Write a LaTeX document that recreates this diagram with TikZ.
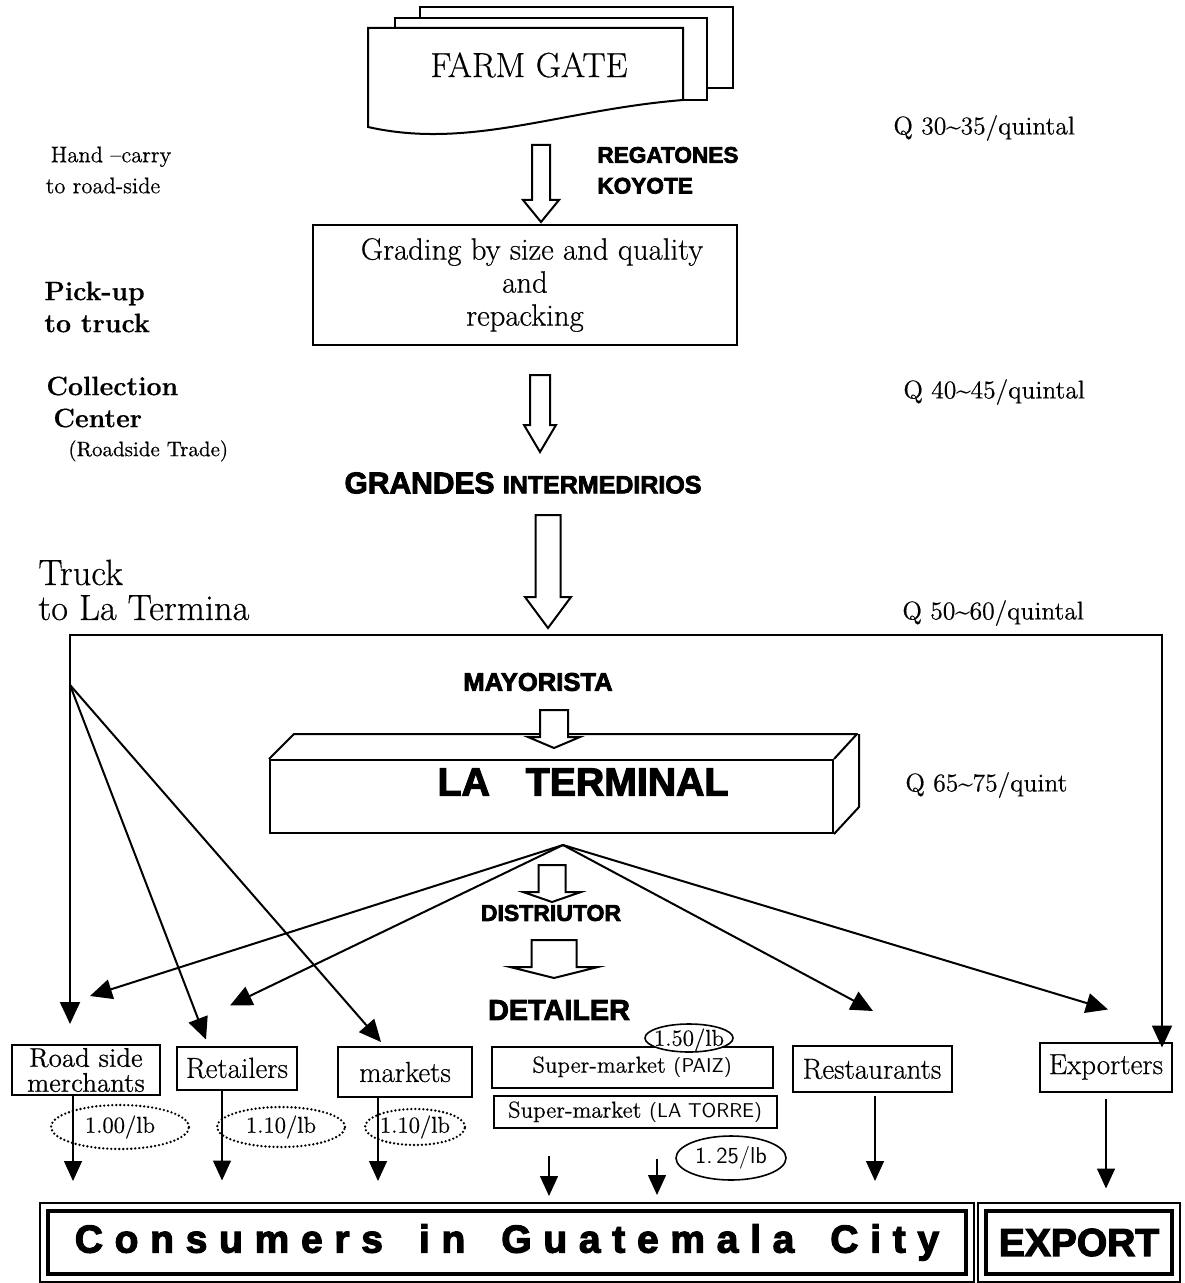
\documentclass[tikz,border=0pt]{standalone}
\usepackage{fontspec}
\usetikzlibrary{positioning, arrows.meta, shapes.geometric}

\setmainfont{Latin Modern Roman}[FakeBold=0.5]
\newfontfamily\heavyfont{Liberation Sans Bold}[FakeBold=3]
\newfontfamily\spacedfont{Liberation Sans Bold}[FakeBold=3, LetterSpace=30]

% block arrow pointing down: x, top, head, tip, half shaft, half head
\newcommand\blockdown[6]{%
  \draw[hollow] (#1-#5,#2) -- (#1+#5,#2) -- (#1+#5,#3) -- (#1+#6,#3) -- (#1,#4)
    -- (#1-#6,#3) -- (#1-#5,#3) -- cycle;}

\tikzset{
  box/.style={draw, line width=1pt, inner sep=0pt, align=center, font=\fontsize{14.5}{11}\selectfont},
  bigcaps/.style={inner sep=0pt, font=\heavyfont\fontsize{#1}{#1}\selectfont},
  side/.style={inner sep=0pt, align=left, anchor=west},
  price/.style={inner sep=0pt, anchor=west, font=\fontsize{12.8}{12.8}\selectfont},
  flow/.style={line width=1pt, -{Triangle[length=11pt,width=10pt]}},
  drop/.style={line width=0.7pt, -{Triangle[length=10pt,width=9pt]}},
  hollow/.style={draw, line width=1pt, fill=white, line join=miter},
  ring/.style={draw, ellipse, line width=0.8pt, inner sep=0pt},
  dotring/.style={ring, dash pattern=on 0pt off 2pt, line cap=round, line width=1.3pt},
  frame/.style={draw, line width=2pt, inner sep=0pt},
  ringtext/.style={font=\fontsize{11.5}{11.5}\selectfont, inner sep=0pt},
}

\begin{document}
\begin{tikzpicture}[x=0.5pt, y=-0.5pt]
\useasboundingbox (0,0) rectangle (1184,1283);
\fill[white] (0,0) rectangle (1184,1283);

  % Farm gate pages
  \draw[line width=1pt, fill=white] (420,7) rectangle (733,88);
  \draw[line width=1pt, fill=white] (395,18) rectangle (707,100);
  \draw[line width=1pt, fill=white] (368,28) -- (683,28) -- (683,100)
    .. controls (560,110) and (470,150) .. (368,127) -- cycle;
  \node (farmgate) [inner sep=0pt, font=\fontsize{17.4}{17.4}\selectfont] at (529,65) {FARM GATE};

  % Left labels
  \node (hand) [inner sep=0pt, align=center, font=\fontsize{11.3}{15.5}\selectfont] at (103,170)
    {\hspace*{8pt}Hand --carry\\to road-side};
  \node (pickup) [side, font=\bfseries\fontsize{13.3}{16}\selectfont] at (44,307) {Pick-up\\to truck};
  \node (collect) [side, font=\bfseries\fontsize{13.3}{16}\selectfont] at (46,419)
    {Collection\\\hspace*{3.5pt}Center\\[-1.5pt]{\mdseries\fontsize{10.5}{12}\selectfont\hspace*{11pt}(Roadside Trade)}};
  \node (truck) [side, font=\fontsize{18.2}{17.5}\selectfont] at (38,590) {Truck\\to La Termina};

  % Right labels
  \node (p1) [price] at (893,128) {Q 30\textasciitilde35/quintal};
  \node (p2) [price] at (903,392) {Q 40\textasciitilde45/quintal};
  \node (p3) [price] at (902,613) {Q 50\textasciitilde60/quintal};
  \node (p4) [price] at (905,785) {Q 65\textasciitilde75/quint};

  % Top flow
  \node (regatones) [bigcaps=11.3, anchor=west] at (597,155) {REGATONES};
  \node (koyote) [bigcaps=11.3, below=7pt of regatones.south west, anchor=north west] {KOYOTE};
  \blockdown{541}{145}{200}{222}{9}{18}
  \node (grading) [box, minimum width=212pt, minimum height=60pt,
    font=\fontsize{15.4}{16.5}\selectfont] at (525,285)
    {\hspace*{7pt}Grading by size and quality\\and\\repacking};
  \blockdown{540}{375}{425}{452}{10}{16}
  \node (grandes) [bigcaps=15] at (523,483) {GRANDES {\fontsize{12.5}{12.5}\selectfont INTERMEDIRIOS}};
  \blockdown{548}{515}{597}{628}{12.5}{23}

  % La Terminal
  \node (mayorista) [bigcaps=12.8] at (538,682) {MAYORISTA};
  \node (terminal) [draw, line width=1pt, inner sep=0pt, minimum width=281.5pt,
    minimum height=36.5pt] at (551.5,796.5) {};
  \draw[line width=1pt, line join=round] (terminal.north west) -- ++(25,-25) -- ++(563,0)
    -- (terminal.north east);
  \draw[line width=1pt, line join=round] (terminal.north east) ++(25,-25) -- ++(0,73)
    -- (terminal.south east);
  \blockdown{554}{710}{737}{748}{14}{26}
  \node (termtext) [bigcaps=19.6] at (583,782) {LA\hspace{18pt}TERMINAL};
  \coordinate (hub) at (563,845);
  \blockdown{552}{865}{892}{902}{13.5}{29}
  \node (distributor) [bigcaps=11.5] at (551,913) {DISTRIUTOR};
  \blockdown{554}{940}{967}{978}{22.5}{44}
  \node (detailer) [bigcaps=14.4] at (559,1010) {DETAILER};

  % Outlets
  \node (roadside) [box, minimum width=74pt, minimum height=25pt,
    font=\fontsize{13.5}{12.5}\selectfont] at (86,1070) {Road side\\merchants};
  \node (retailers) [box, minimum width=60pt, minimum height=21.5pt] at (237,1068) {Retailers};
  \node (markets) [box, minimum width=67pt, minimum height=25pt] at (405,1072) {markets};
  \node (paiz) [box, minimum width=140.5pt, minimum height=20.5pt, font=\fontsize{11.5}{11.5}\selectfont]
    at (632,1067) {Super-market\hspace{4pt}{\sffamily\fontsize{10}{10}\selectfont(PAIZ)}};
  \node (torre) [box, minimum width=141.5pt, minimum height=16pt, font=\fontsize{11.5}{11.5}\selectfont]
    at (635,1112) {Super-market\hspace{4pt}{\sffamily\fontsize{10}{10}\selectfont(LA TORRE)}};
  \node (restaurants) [box, minimum width=79.5pt, minimum height=23pt] at (872,1069) {Restaurants};
  \node (exporters) [box, minimum width=66pt, minimum height=24.5pt] at (1106,1067) {Exporters};

  % Prices per pound
  \node (ring1) [dotring, minimum width=69pt, minimum height=22pt,
    label={[ringtext]center:1.00/lb}] at (120,1127) {};
  \node (ring2) [dotring, minimum width=64pt, minimum height=20pt,
    label={[ringtext]center:1.10/lb}] at (281,1127) {};
  \node (ring3) [dotring, minimum width=50pt, minimum height=18pt,
    label={[ringtext]center:1.10/lb}] at (415,1127) {};
  \node (ring4) [ring, fill=white, minimum width=44pt, minimum height=14pt,
    label={[ringtext, yshift=-1pt]center:1.50/lb}] at (689,1038) {};
  \node (ring5) [ring, minimum width=55pt, minimum height=22pt,
    label={[ringtext, font=\sffamily\fontsize{11.5}{11.5}\selectfont]center:1.\,25/lb}] at (731,1158) {};

  % Consumers
  \node (consumers) [frame, minimum width=459pt, minimum height=31.5pt,
    font=\spacedfont\fontsize{19.5}{19.5}\selectfont] at (507,1242.5)
    {Consumers\hspace{18pt}in\hspace{18pt}Guatemala\hspace{18pt}City};
  \draw[line width=0.6pt] ([shift={(-6,-6)}]consumers.north west) rectangle ([shift={(6,6)}]consumers.south east);
  \node (export) [frame, minimum width=93pt, minimum height=31.5pt,
    font=\heavyfont\fontsize{19.5}{19.5}\selectfont] at (1079,1242.5) {EXPORT};
  \draw[line width=0.6pt] ([shift={(-6,-6)}]export.north west) rectangle ([shift={(6,6)}]export.south east);

  % Arrows
  \coordinate (split) at (548,635);
  \coordinate (fork) at (70,685);
  \draw[flow] (split) -| ([shift={(-16,-20)}]roadside.north);
  \draw[flow] (split) -| ([shift={(-11,6)}]exporters.north east);
  \draw[flow] (fork) -- ([shift={(30,-6)}]retailers.north west);
  \draw[flow] (fork) -- ([shift={(44,-4)}]markets.north west);
  \draw[flow] (hub) -- ([shift={(4,-48)}]roadside.north);
  \draw[flow] (hub) -- ([shift={(-7,-40)}]retailers.north);
  \draw[flow] (hub) -- ([shift={(1,-34)}]restaurants.north);
  \draw[flow] (hub) -- ([shift={(2,-32)}]exporters.north);

  \draw[drop] ([shift={(-13,0)}]roadside.south) -- ++(0,85);
  \draw[drop] ([shift={(-15,0)}]retailers.south) -- ++(0,90);
  \draw[drop] ([shift={(-27,0)}]markets.south) -- ++(0,83);
  \draw[drop] ([shift={(-86,27)}]torre.south) -- ++(0,40);
  \draw[drop] ([shift={(22,30)}]torre.south) -- ++(0,36);
  \draw[drop] ([shift={(3,3)}]restaurants.south) -- ++(0,85);
  \draw[drop] ([shift={(0,6)}]exporters.south) -- ++(0,90);

\end{tikzpicture}
\end{document}
